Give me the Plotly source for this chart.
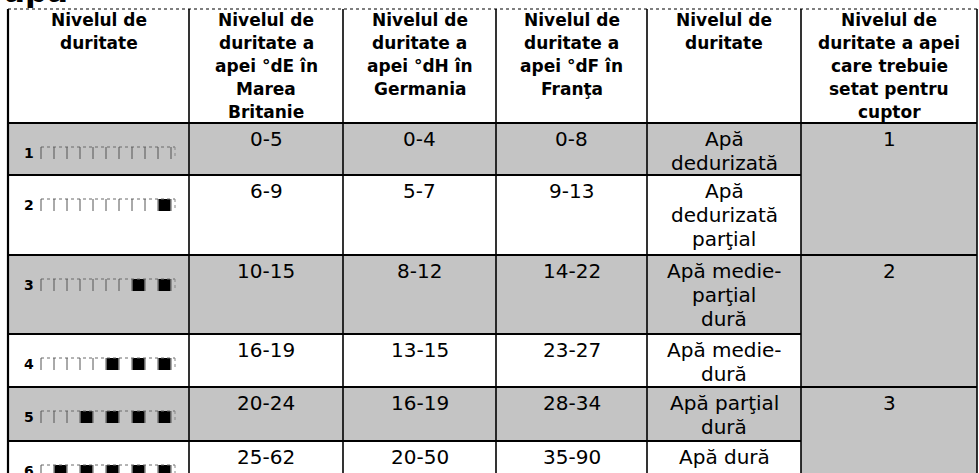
import plotly.graph_objects as go

# ---------------- data ----------------
levels = [1, 2, 3, 4, 5, 6]
uk_dE = ["0-5", "6-9", "10-15", "16-19", "20-24", "25-62"]
de_dH = ["0-4", "5-7", "8-12", "13-15", "16-19", "20-50"]
fr_dF = ["0-8", "9-13", "14-22", "23-27", "28-34", "35-90"]
hardness_name = [
    ["Apă", "dedurizată"],
    ["Apă", "dedurizată", "parţial"],
    ["Apă medie-", "parţial", "dură"],
    ["Apă medie-", "dură"],
    ["Apă parţial", "dură"],
    ["Apă dură"],
]
oven_setting = ["1", "2", "3"]
oven_rows = [2, 2, 2]
headers = [
    ["Nivelul de", "duritate"],
    ["Nivelul de", "duritate a", "apei °dE în", "Marea", "Britanie"],
    ["Nivelul de", "duritate a", "apei °dH în", "Germania"],
    ["Nivelul de", "duritate a", "apei °dF în", "Franţa"],
    ["Nivelul de", "duritate"],
    ["Nivelul de", "duritate a apei", "care trebuie", "setat pentru", "cuptor"],
]
title_text = "apă"
gauge_segments = 10

# ---------------- geometry / style ----------------
W, H = 979, 473
col_edges = [8, 189, 343, 496, 647, 801, 977]
row_edges = [9, 123, 175, 255, 334, 387, 441, 530]
GREY = "#c4c4c4"
FONT = "DejaVu Sans"
HEAD_SIZE = 17
BODY_SIZE = 20
HEAD_LH = 23
BODY_LH = 24
BODY_TOP = 16

shapes = []
annotations = []


def rect(x0, x1, y0, y1, color):
    shapes.append(dict(type="rect", xref="x", yref="y", x0=x0, x1=x1, y0=y0, y1=y1,
                       fillcolor=color, line=dict(width=0), layer="below"))


def line(x0, y0, x1, y1, width=1.6, color="black", dash="solid"):
    shapes.append(dict(type="line", xref="x", yref="y", x0=x0, y0=y0, x1=x1, y1=y1,
                       line=dict(width=width, color=color, dash=dash)))


def text(x, y, s, size, bold=False, xanchor="center"):
    annotations.append(dict(x=x, y=y, xref="x", yref="y", text=("<b>%s</b>" % s) if bold else s,
                            showarrow=False, xanchor=xanchor, yanchor="middle",
                            font=dict(family=FONT, size=size, color="black")))


n = len(levels)
# shaded rows (odd hardness levels) in first five columns
for i in range(n):
    if levels[i] % 2 == 1:
        rect(col_edges[0], col_edges[5], row_edges[i + 1], row_edges[i + 2], GREY)
# oven column fully shaded
rect(col_edges[5], col_edges[6], row_edges[1], row_edges[-1], GREY)

# borders
line(col_edges[0], row_edges[0], col_edges[-1], row_edges[0], width=1.2, dash="dot")
for k, x in enumerate(col_edges):
    line(x, row_edges[0], x, row_edges[-1], width=2.2 if k == 0 else 1.6)
line(col_edges[0], row_edges[1], col_edges[-1], row_edges[1], width=2)
for i in range(1, n):
    line(col_edges[0], row_edges[i + 1], col_edges[5], row_edges[i + 1], width=2)
acc = 0
for span in oven_rows[:-1]:
    acc += span
    line(col_edges[5], row_edges[acc + 1], col_edges[6], row_edges[acc + 1], width=2)

# title fragment above the table (mostly cut off by the page edge)
annotations.append(dict(x=2, y=8, xref="x", yref="y", text="<b>%s</b>" % title_text,
                        showarrow=False, xanchor="left", yanchor="bottom", yshift=-3,
                        font=dict(family=FONT, size=31, color="black")))

# headers
for c, hl in enumerate(headers):
    cx = (col_edges[c] + col_edges[c + 1]) / 2
    for j, s in enumerate(hl):
        text(cx, row_edges[0] + 11 + j * HEAD_LH, s, HEAD_SIZE, bold=True)

# body
for i in range(n):
    top = row_edges[i + 1]
    for c, vals in ((1, uk_dE), (2, de_dH), (3, fr_dF)):
        cx = (col_edges[c] + col_edges[c + 1]) / 2
        text(cx, top + BODY_TOP, vals[i], BODY_SIZE)
    cx = (col_edges[4] + col_edges[5]) / 2
    for j, s in enumerate(hardness_name[i]):
        text(cx, top + BODY_TOP + j * BODY_LH, s, BODY_SIZE)

# oven settings (merged cells)
acc = 0
for s, span in zip(oven_setting, oven_rows):
    cx = (col_edges[5] + col_edges[6]) / 2
    text(cx, row_edges[acc + 1] + BODY_TOP, s, BODY_SIZE)
    acc += span

# hardness gauges in first column
seg_w = 13
gx0 = 38
sq_x, sq_y = [], []
for i, lv in enumerate(levels):
    gy = row_edges[i + 1] + 30
    text(29, gy, str(lv), 14, bold=True)
    gx1 = gx0 + seg_w * gauge_segments
    line(gx0 + 3, gy - 6, gx1 + 7, gy - 6, width=1, color="#6a6a6a", dash="dot")
    for k in range(gauge_segments + 1):
        line(gx0 + 3 + k * seg_w, gy - 6, gx0 + 3 + k * seg_w, gy + 6, width=1, color="#555555")
    line(gx1 + 7, gy - 6, gx1 + 7, gy + 6, width=1, color="#888888", dash="dot")
    for f in range(lv - 1):
        seg = gauge_segments - 2 * f
        sq_x.append(gx0 + 3 + (seg - 1) * seg_w + seg_w / 2)
        sq_y.append(gy)

fig = go.Figure()
fig.add_trace(go.Scatter(x=sq_x, y=sq_y, mode="markers", hoverinfo="skip",
                         marker=dict(symbol="square", size=12, color="black", line=dict(width=0))))

fig.update_layout(
    width=W, height=H, margin=dict(l=0, r=0, t=0, b=0),
    paper_bgcolor="white", plot_bgcolor="white", showlegend=False,
    xaxis=dict(range=[0, W], visible=False, fixedrange=True),
    yaxis=dict(range=[H, 0], visible=False, fixedrange=True),
    shapes=shapes, annotations=annotations,
)
fig.write_html("out.html", config={"displayModeBar": False},
               post_script="document.body.style.margin='0px';document.body.style.overflow='hidden';")
